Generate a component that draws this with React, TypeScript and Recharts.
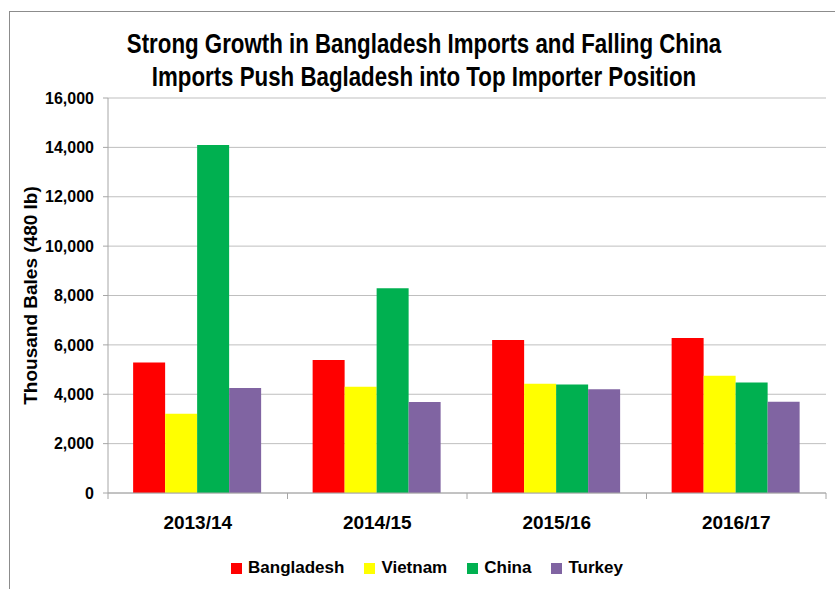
import { BarChart, Bar, XAxis, YAxis, CartesianGrid, Legend } from "recharts";

const seasons = ["2013/14", "2014/15", "2015/16", "2016/17"];
const bangladesh = [5290, 5390, 6200, 6280];
const vietnam = [3210, 4300, 4430, 4750];
const china = [14100, 8290, 4390, 4480];
const turkey = [4250, 3690, 4200, 3700];
const yTicks = [0, 2000, 4000, 6000, 8000, 10000, 12000, 14000, 16000];

const seriesList = [
  { key: "Bangladesh", color: "#FF0000" },
  { key: "Vietnam", color: "#FFFF00" },
  { key: "China", color: "#00B050" },
  { key: "Turkey", color: "#8064A2" },
];

const data = seasons.map((season, i) => ({
  season,
  Bangladesh: bangladesh[i],
  Vietnam: vietnam[i],
  China: china[i],
  Turkey: turkey[i],
}));

const FONT = "'Liberation Sans', Arial, sans-serif";
const AXIS_GRAY = "#a6a6a6";

function SeasonTick(props: any) {
  const { x, y, payload, index, visibleTicksCount, width } = props;
  const half = payload?.offset ?? width / visibleTicksCount / 2;
  const isLast = index === visibleTicksCount - 1;
  return (
    <g>
      <line x1={x - half} y1={y} x2={x - half} y2={y + 6} stroke={AXIS_GRAY} />
      {isLast && <line x1={x + half} y1={y} x2={x + half} y2={y + 6} stroke={AXIS_GRAY} />}
      <text
        x={x}
        y={y + 36}
        textAnchor="middle"
        fontFamily={FONT}
        fontWeight="bold"
        fontSize={19}
        fill="#000"
      >
        {payload.value}
      </text>
    </g>
  );
}

function LegendRow() {
  return (
    <div
      style={{
        display: "flex",
        justifyContent: "center",
        alignItems: "center",
        paddingLeft: 40,
        height: 20,
        fontFamily: FONT,
        fontWeight: "bold",
        fontSize: 17,
        color: "#000",
      }}
    >
      {seriesList.map((s) => (
        <div key={s.key} style={{ display: "flex", alignItems: "center", marginRight: 20 }}>
          <span style={{ width: 11, height: 11, background: s.color, marginRight: 6, display: "inline-block" }} />
          <span>{s.key}</span>
        </div>
      ))}
    </div>
  );
}

export default function App() {
  return (
    <div style={{ position: "relative", width: 835, height: 589, overflow: "hidden", background: "#fff" }}>
      <style>{`body{margin:0}`}</style>
      <div
        style={{
          position: "absolute",
          left: 9,
          top: 11,
          width: 840,
          height: 600,
          border: "1px solid #8c8c8c",
        }}
      />
      <div
        style={{
          position: "absolute",
          top: 27,
          left: 0,
          width: 848,
          textAlign: "center",
          fontFamily: FONT,
          fontWeight: "bold",
          fontSize: 28,
          lineHeight: "33px",
          color: "#000",
          transform: "scaleX(0.796)",
          transformOrigin: "424px 0",
        }}
      >
        Strong Growth in Bangladesh Imports and Falling China
        <br />
        Imports Push Bagladesh into Top Importer Position
      </div>
      <BarChart
        width={835}
        height={589}
        data={data}
        margin={{ top: 98, right: 9, left: 8, bottom: 11 }}
        barCategoryGap="14%"
        barGap={0}
        style={{ position: "absolute", top: 0, left: 0 }}
      >
        <CartesianGrid vertical={false} stroke="#bfbfbf" />
        <XAxis
          dataKey="season"
          height={65}
          tickSize={0}
          tickMargin={0}
          axisLine={{ stroke: AXIS_GRAY }}
          tickLine={false}
          tick={<SeasonTick />}
          interval={0}
        />
        <YAxis
          width={100}
          domain={[0, 16000]}
          ticks={yTicks}
          interval={0}
          tickFormatter={(v: number) => v.toLocaleString("en-US")}
          axisLine={{ stroke: AXIS_GRAY }}
          tickLine={{ stroke: AXIS_GRAY }}
          tickSize={5}
          tickMargin={9}
          tick={{ fontFamily: FONT, fontWeight: "bold", fontSize: 16, fill: "#000" }}
          label={{
            value: "Thousand Bales (480 lb)",
            angle: -90,
            position: "insideLeft",
            offset: 22,
            style: { textAnchor: "middle", fontFamily: FONT, fontWeight: "bold", fontSize: 19, fill: "#000" },
          }}
        />
        <Legend verticalAlign="bottom" content={() => <LegendRow />} />
        {seriesList.map((s) => (
          <Bar key={s.key} dataKey={s.key} fill={s.color} isAnimationActive={false} />
        ))}
      </BarChart>
    </div>
  );
}
